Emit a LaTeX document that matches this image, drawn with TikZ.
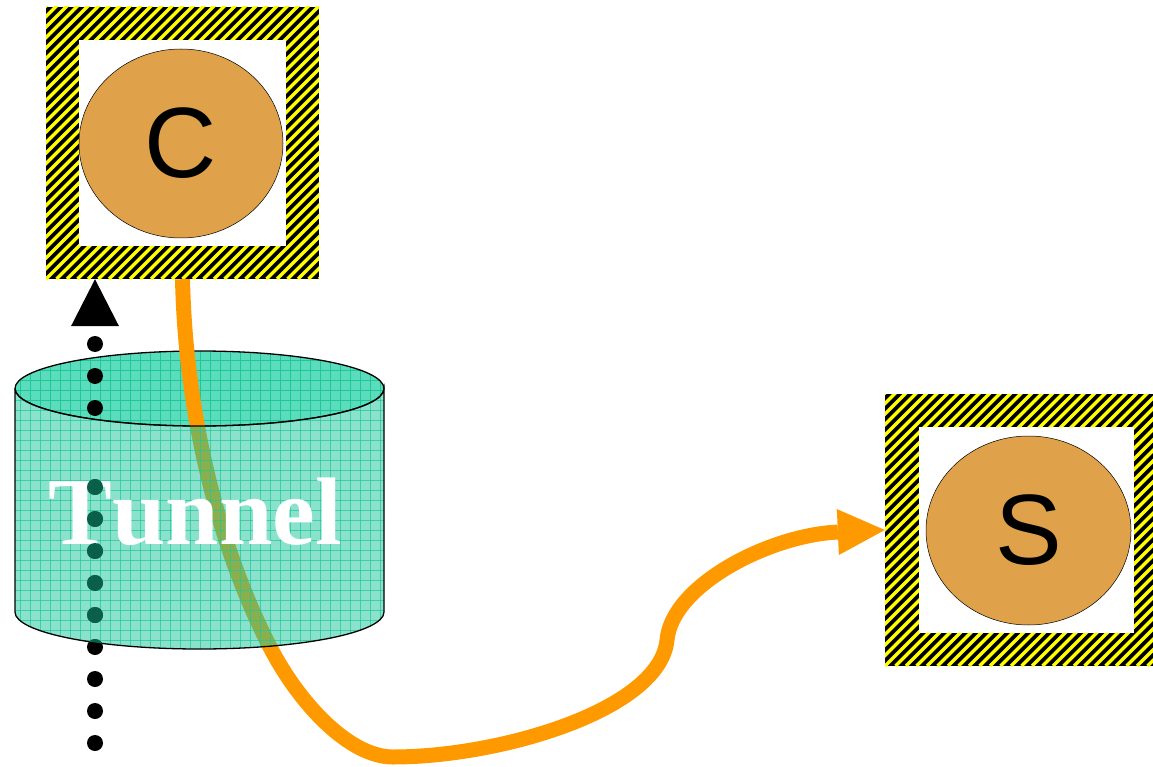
\documentclass[tikz,border=0pt]{standalone}
\usepackage{fontspec}
\setmainfont{Liberation Serif}[Kerning=Off]
\newfontfamily\labelfont{Liberation Sans}
\usetikzlibrary{shapes.geometric, arrows.meta}

\definecolor{hazardyellow}{RGB}{255,255,0}
\definecolor{hostfill}{RGB}{223,162,74}
\definecolor{flowcolor}{RGB}{255,153,0}
\definecolor{tunneltop}{RGB}{91,221,189}
\definecolor{tunnelbody}{RGB}{21,198,156}
\definecolor{tunnelgrid}{RGB}{30,200,150}
\definecolor{shadeddot}{RGB}{10,95,75}

\begin{document}
\begin{tikzpicture}[x=1pt, y=-1pt,
  hazard/.style={rectangle, fill=black, inner sep=0pt,
    path picture={
      \foreach \i in {-30,...,30}
        \draw[hazardyellow, line width=3.4pt]
          ([xshift=\i*10.5pt]path picture bounding box.south west) -- ++(320pt,320pt);
    }},
  innerpanel/.style={rectangle, fill=white, inner sep=0pt},
  host/.style={ellipse, draw=black, line width=0.5pt, fill=hostfill, inner sep=0pt,
    font=\labelfont\fontsize{100}{100}\selectfont},
  dotline/.style={line width=16pt, line cap=round, dash pattern=on 0pt off 32pt},
  flow/.style={draw=flowcolor, line width=15pt},
  gridline/.style={tunnelgrid, line width=0.8pt},
  edge/.style={draw=black, line width=1.3pt}
]
\useasboundingbox (0,0) rectangle (1153,767);
\clip (0,0) rectangle (1153,767);

% client box
\node[hazard, minimum width=273pt, minimum height=272pt] (Cbox) at (182.5,143) {};
\node[innerpanel, minimum width=207pt, minimum height=206pt] (Cpanel) at (182.5,143) {};
\node[host, minimum width=204pt, minimum height=189pt] (C) at (181,143.5) {C};

% server box
\node[hazard, minimum width=282pt, minimum height=272pt] (Sbox) at (1026,530) {};
\node[innerpanel, minimum width=215pt, minimum height=206pt] (Spanel) at (1026.5,530) {};
\node[host, minimum width=205pt, minimum height=189pt] (S) at (1028.5,530.5) {S};

% tunnel: top face (behind the connectors)
\begin{scope}
  \clip (199.5,388.5) ellipse [x radius=184.5pt, y radius=37.5pt];
  \fill[tunneltop] (10,340) rectangle (390,440);
  \foreach \x in {20,30,...,380} \draw[gridline] (\x,340) -- (\x,440);
  \foreach \y in {350,360,...,430} \draw[gridline] (10,\y) -- (390,\y);
\end{scope}
\draw[edge] (199.5,388.5) ellipse [x radius=184.5pt, y radius=37.5pt];

% connectors
\coordinate (dotbot) at (95,743);
\coordinate (dotmid) at (95,455);
\coordinate (dotup) at (95,408);
\draw[dotline] (dotbot) -- (dotmid);
\draw[dotline, -{Triangle[length=47pt, width=48pt, line width=0pt]}]
  (dotup) -- (dotup |- Cbox.south);

\draw[flow, -{Triangle[length=47pt, width=46pt, line width=0pt]}]
  (Cbox.south) .. controls (186,430) and (225,560) .. (270,647)
  .. controls (300,705) and (350,757) .. (393,757)
  .. controls (500,757) and (660,710) .. (667,640)
  .. controls (672,585) and (770,535) .. (Sbox.west);

% tunnel: translucent side wall
\def\tunnelside{(15,388.5) -- (15,612)
  arc[start angle=180, end angle=360, x radius=184.5pt, y radius=37pt]
  -- (384,388.5)
  arc[start angle=0, end angle=-180, x radius=184.5pt, y radius=37.5pt] -- cycle}
\fill[tunnelbody, fill opacity=0.5] \tunnelside;
\begin{scope}
  \clip \tunnelside;
  \foreach \x in {20,30,...,380} \draw[gridline, opacity=0.7] (\x,380) -- (\x,660);
  \foreach \y in {390,400,...,650} \draw[gridline, opacity=0.7] (10,\y) -- (390,\y);
\end{scope}
\draw[edge] (15,388.5) -- (15,612)
  arc[start angle=180, end angle=360, x radius=184.5pt, y radius=37pt]
  -- (384,388.5)
  arc[start angle=0, end angle=-180, x radius=184.5pt, y radius=37.5pt];

\node[text=white, anchor=base, inner sep=0pt,
  font=\fontsize{96}{96}\selectfont\bfseries] (tunnel) at (195,544) {Tunnel};

% dots seen through the wall stay tinted over the lettering
\begin{scope}
  \clip \tunnelside;
  \draw[dotline, shadeddot] (dotbot) -- (dotmid);
\end{scope}
\end{tikzpicture}
\end{document}
